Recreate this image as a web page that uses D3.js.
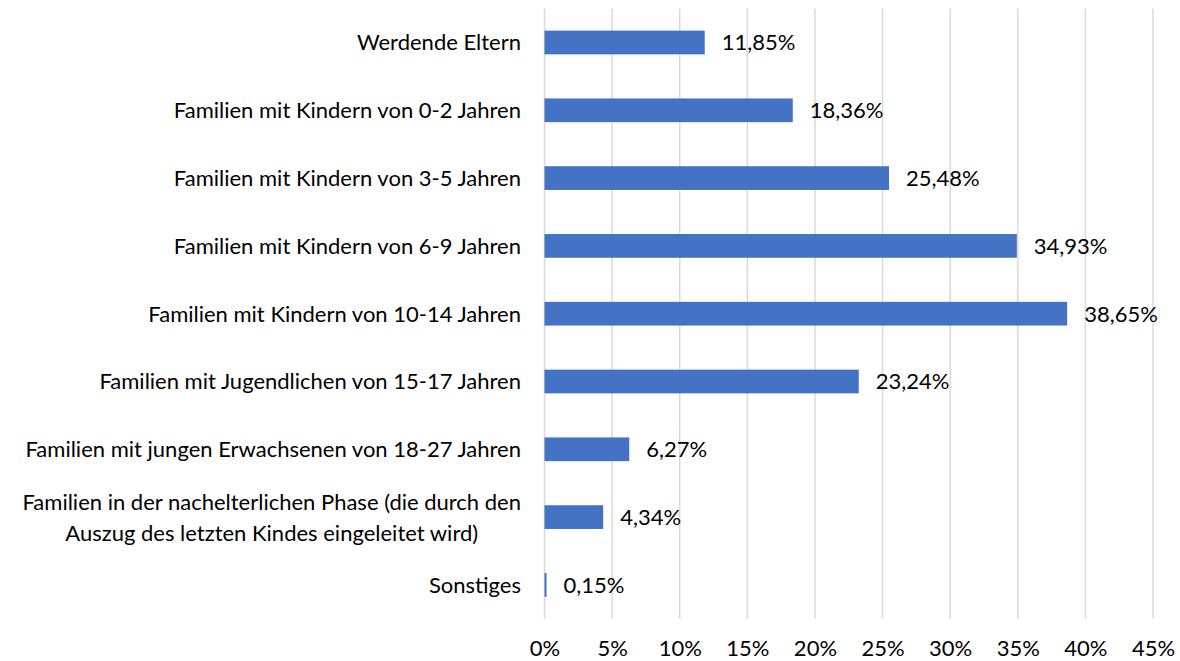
<!DOCTYPE html>
<meta charset="utf-8">
<script src="https://d3js.org/d3.v7.min.js"></script>
<style>
  body { margin: 0; background: #fff; }
  text { font-family: Lato, "Open Sans", sans-serif; fill: #000; }
</style>
<div id="my_dataviz"></div>
<script>

// data
var categories = [
  "Werdende Eltern",
  "Familien mit Kindern von 0-2 Jahren",
  "Familien mit Kindern von 3-5 Jahren",
  "Familien mit Kindern von 6-9 Jahren",
  "Familien mit Kindern von 10-14 Jahren",
  "Familien mit Jugendlichen von 15-17 Jahren",
  "Familien mit jungen Erwachsenen von 18-27 Jahren",
  "Familien in der nachelterlichen Phase (die durch den\nAuszug des letzten Kindes eingeleitet wird)",
  "Sonstiges"
];
var values = [11.85, 18.36, 25.48, 34.93, 38.65, 23.24, 6.27, 4.34, 0.15];
var xTicks = [0, 5, 10, 15, 20, 25, 30, 35, 40, 45];

var width = 1180, height = 661;
var plot = {left: 544.5, right: 1153, top: 8.6, bottom: 618.8};
var fontSize = "22px";

var svg = d3.select("#my_dataviz")
  .append("svg")
    .attr("width", width)
    .attr("height", height);

var x = d3.scaleLinear()
  .domain([0, 45])
  .range([plot.left, plot.right]);

var y = d3.scaleBand()
  .domain(categories)
  .range([plot.top, plot.bottom])
  .paddingInner(0.65)
  .paddingOuter(0.325);

// gridlines
svg.append("g")
  .selectAll("line")
  .data(xTicks)
  .enter()
  .append("line")
    .attr("x1", function(d) { return x(d); })
    .attr("x2", function(d) { return x(d); })
    .attr("y1", plot.top)
    .attr("y2", plot.bottom)
    .attr("stroke", "#d9d9d9")
    .attr("stroke-width", 1.5);

// X axis labels
var xAxis = svg.append("g")
  .attr("transform", "translate(0," + plot.bottom + ")")
  .call(d3.axisBottom(x).tickValues(xTicks).tickFormat(function(d) { return d + "%"; }).tickSize(0).tickPadding(22));
xAxis.select(".domain").remove();
xAxis.selectAll("text")
  .style("font-size", fontSize)
  .style("font-family", "Lato, 'Open Sans', sans-serif")
  .attr("fill", "#000");

// bars
svg.selectAll("mybar")
  .data(values)
  .enter()
  .append("rect")
    .attr("x", x(0))
    .attr("y", function(d, i) { return y(categories[i]); })
    .attr("width", function(d) { return Math.max(x(d) - x(0), 1); })
    .attr("height", y.bandwidth())
    .attr("fill", "#4472c4");

// value labels
svg.selectAll("vlabel")
  .data(values)
  .enter()
  .append("text")
    .attr("x", function(d) { return x(d) + 17; })
    .attr("y", function(d, i) { return y(categories[i]) + y.bandwidth() / 2; })
    .attr("dy", "0.36em")
    .style("font-size", fontSize)
    .text(function(d) { return d.toFixed(2).replace(".", ",") + "%"; });

// category labels, multi-line ones centred as a block
var labelRight = 521, lineH = 31;
categories.forEach(function(c) {
  var lines = c.split("\n");
  var cy = y(c) + y.bandwidth() / 2;
  var t = svg.append("text")
    .style("font-size", fontSize)
    .attr("text-anchor", lines.length > 1 ? "middle" : "end");
  lines.forEach(function(l, j) {
    t.append("tspan")
      .attr("y", cy + (j - (lines.length - 1) / 2) * lineH)
      .attr("dy", "0.36em")
      .text(l);
  });
  if (lines.length > 1) {
    var w = d3.max(t.selectAll("tspan").nodes(), function(n) { return n.getComputedTextLength(); });
    t.selectAll("tspan").attr("x", labelRight - w / 2);
  } else {
    t.selectAll("tspan").attr("x", labelRight);
  }
});

</script>
